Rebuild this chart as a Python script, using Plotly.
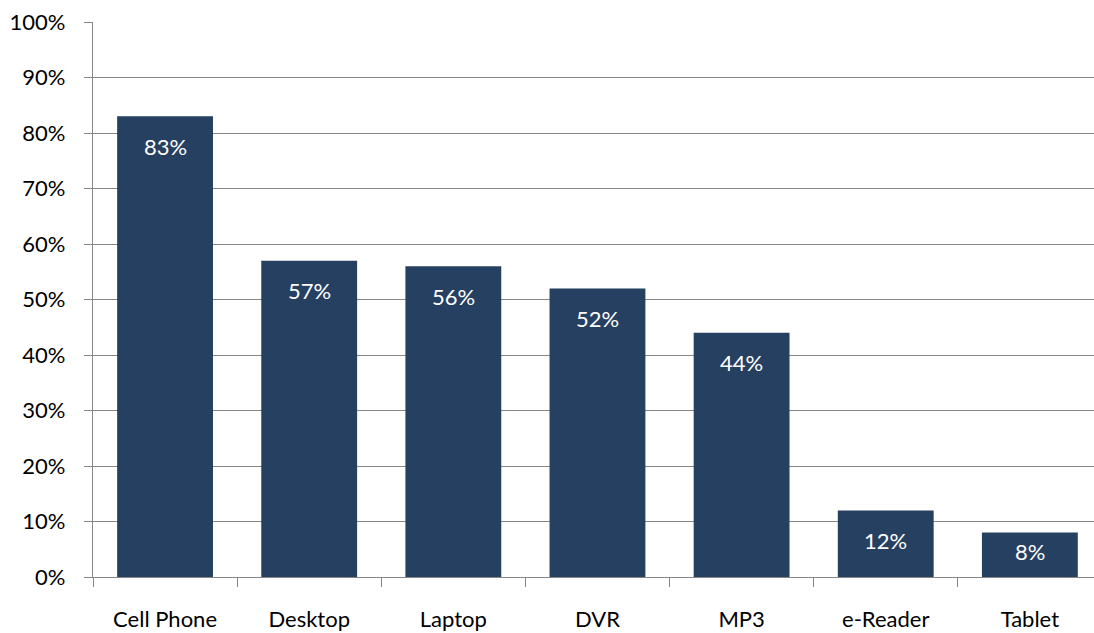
import plotly.graph_objects as go

categories = ["Cell Phone", "Desktop", "Laptop", "DVR", "MP3", "e-Reader", "Tablet"]
values = [83, 57, 56, 52, 44, 12, 8]
labels = [f"{v}%" for v in values]
ytick_vals = list(range(0, 101, 10))
ytick_text = [f"{v}%" for v in ytick_vals]

BAR = "#264061"
GRID = "#878787"
FONT = "Lato, 'Open Sans', sans-serif"

H, T, B = 633, 22, 56
px_per_unit = (H - T - B) / 100.0

fig = go.Figure()
fig.add_trace(go.Bar(x=categories, y=values, marker=dict(color=BAR, line=dict(width=0)),
                     hoverinfo="skip"))

for c, v, t in zip(categories, values, labels):
    shift = min(30, v * px_per_unit / 2 - 3)
    fig.add_annotation(x=c, y=v, text=t, showarrow=False, yshift=-shift,
                       font=dict(color="white", size=22, family=FONT))

fig.update_layout(
    width=1094, height=H,
    margin=dict(l=93, r=0, t=T, b=B),
    paper_bgcolor="white", plot_bgcolor="white",
    bargap=0.335, showlegend=False,
    font=dict(family=FONT, size=22, color="black"),
)
fig.update_xaxes(
    range=[-0.5, 6.445], showgrid=False, tickson="boundaries",
    ticks="outside", ticklen=9, tickcolor=GRID, tickwidth=1.3,
    showline=True, linecolor=GRID, linewidth=1.3,
    ticklabelstandoff=22, tickfont=dict(size=22),
)
fig.update_yaxes(
    range=[0, 100], tickvals=ytick_vals, ticktext=ytick_text,
    showgrid=True, gridcolor=GRID, gridwidth=1.3,
    ticks="outside", ticklen=8, tickcolor=GRID, tickwidth=1.3,
    showline=True, linecolor=GRID, linewidth=1.3, zeroline=False,
    ticklabelstandoff=14, tickfont=dict(size=22),
)

fig.write_html("out.html", config={"displayModeBar": False},
               post_script="document.body.style.margin='0';document.body.style.overflow='hidden';")
